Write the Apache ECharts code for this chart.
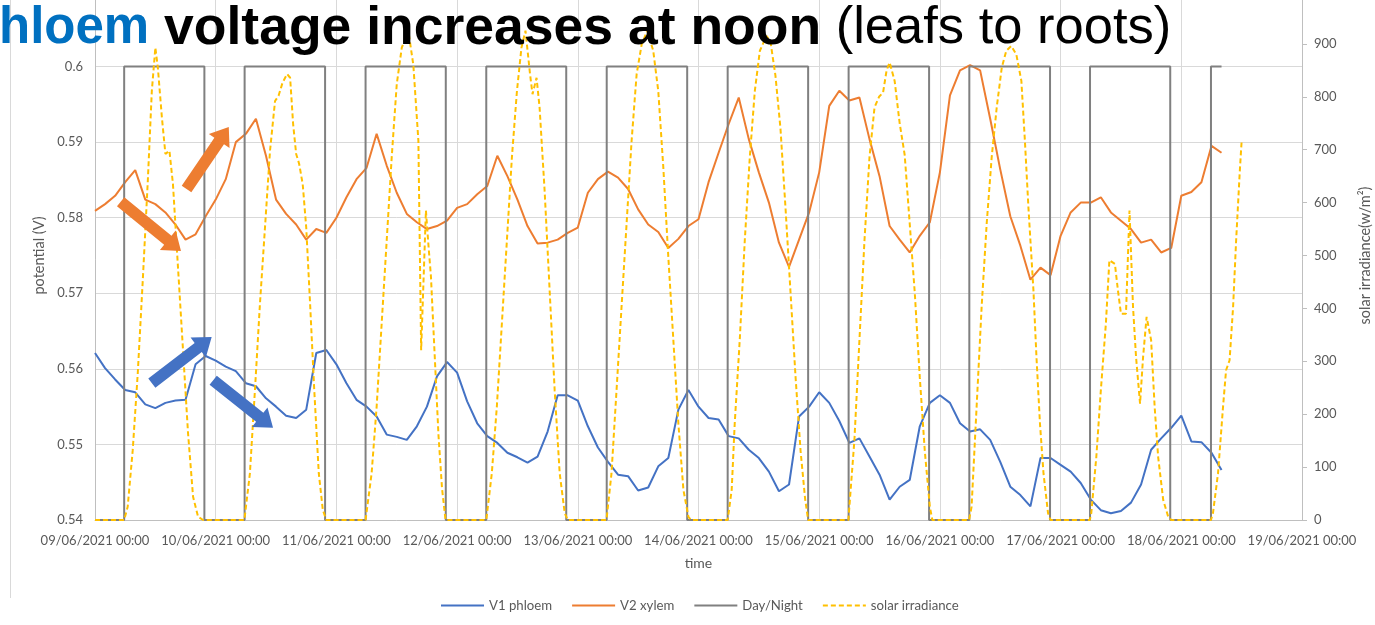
<!DOCTYPE html>
<html><head><meta charset="utf-8">
<script src="https://cdn.jsdelivr.net/npm/echarts@6/dist/echarts.min.js"></script>
<style>html,body{margin:0;padding:0;background:#fff}#c{width:1375px;height:625px}</style>
</head><body><div id="c"></div>
<script>
// ---- data (hours since 09/06/2021 00:00) ----
const xTickLabels = ['09/06/2021 00:00','10/06/2021 00:00','11/06/2021 00:00','12/06/2021 00:00','13/06/2021 00:00','14/06/2021 00:00','15/06/2021 00:00','16/06/2021 00:00','17/06/2021 00:00','18/06/2021 00:00','19/06/2021 00:00'];
const sampleHours = [0,2,4,6,8,10,12,14,16,18,20,22,24,26,28,30,32,34,36,38,40,42,44,46,48,50,52,54,56,58,60,62,64,66,68,70,72,74,76,78,80,82,84,86,88,90,92,94,96,98,100,102,104,106,108,110,112,114,116,118,120,122,124,126,128,130,132,134,136,138,140,142,144,146,148,150,152,154,156,158,160,162,164,166,168,170,172,174,176,178,180,182,184,186,188,190,192,194,196,198,200,202,204,206,208,210,212,214,216,218,220,222,224];
const v1Phloem = [0.5621,0.5601,0.5586,0.5572,0.5569,0.5553,0.5548,0.5555,0.5558,0.5559,
0.5606,0.5617,0.5611,0.5603,0.5597,0.5581,0.5577,0.5561,0.5550,0.5538,
0.5535,0.5546,0.5621,0.5625,0.5606,0.5581,0.5559,0.5550,0.5537,0.5513,
0.5510,0.5506,0.5524,0.5550,0.5590,0.5609,0.5595,0.5557,0.5528,0.5511,
0.5502,0.5489,0.5483,0.5476,0.5484,0.5517,0.5565,0.5565,0.5558,0.5524,
0.5496,0.5477,0.5460,0.5458,0.5439,0.5443,0.5471,0.5482,0.5546,0.5572,
0.5550,0.5535,0.5533,0.5511,0.5508,0.5493,0.5482,0.5464,0.5438,0.5447,
0.5537,0.5550,0.5569,0.5555,0.5531,0.5502,0.5508,0.5484,0.5460,0.5427,
0.5444,0.5453,0.5524,0.5555,0.5565,0.5555,0.5528,0.5517,0.5520,0.5506,
0.5477,0.5444,0.5433,0.5418,0.5482,0.5482,0.5473,0.5464,0.5449,0.5427,
0.5413,0.5409,0.5412,0.5423,0.5447,0.5493,0.5508,0.5522,0.5538,0.5504,
0.5503,0.5489,0.5466];
const v2Xylem = [0.5809,0.5818,0.5829,0.5847,0.5863,0.5824,0.5818,0.5807,0.5791,0.5771,
0.5778,0.5802,0.5824,0.5851,0.5900,0.5911,0.5931,0.5882,0.5824,0.5805,
0.5791,0.5771,0.5785,0.5780,0.5800,0.5827,0.5851,0.5866,0.5911,0.5869,
0.5833,0.5805,0.5794,0.5785,0.5789,0.5796,0.5813,0.5818,0.5831,0.5842,
0.5882,0.5855,0.5824,0.5789,0.5766,0.5767,0.5771,0.5780,0.5787,0.5833,
0.5851,0.5861,0.5853,0.5838,0.5811,0.5791,0.5781,0.5760,0.5772,0.5789,
0.5798,0.5847,0.5886,0.5924,0.5959,0.5904,0.5860,0.5820,0.5767,0.5735,
0.5771,0.5807,0.5860,0.5948,0.5968,0.5955,0.5959,0.5904,0.5855,0.5789,
0.5771,0.5754,0.5776,0.5794,0.5860,0.5962,0.5995,0.6002,0.5995,0.5931,
0.5864,0.5802,0.5763,0.5718,0.5734,0.5724,0.5776,0.5807,0.5820,0.5820,
0.5827,0.5807,0.5796,0.5785,0.5767,0.5771,0.5754,0.5760,0.5829,0.5834,
0.5847,0.5895,0.5886];
const sunriseHours = [5.8,29.75,53.8,77.8,101.75,125.8,149.85,173.85,197.85,221.9];
const sunsetHours = [21.75,45.75,69.75,93.7,117.75,141.8,165.85,189.9,213.8];
const dayLevel = 0.6, nightLevel = 0.54, dayNightEndHour = 224;
const solarHours = [
0,5.8,6.5,7.5,8.5,9.5,10.5,11.3,12,12.5,13.3,14,14.8,15.5,16.5,17.5,18.5,19.5,20.5,21.5,
29.7,30.8,31.8,32.8,33.8,34.8,35.8,36.5,37.3,38.2,38.8,39.4,40,40.6,41.3,42,42.8,43.6,44.5,45.3,46,
53.8,55,56,57,58,59,60,61,62.3,63.3,64.3,64.85,65.8,66.3,66.8,67.5,68.3,69,69.7,
77.8,78.9,79.9,80.9,81.9,82.9,83.9,84.8,85.6,86.5,87,87.8,88.4,89.4,90.4,91.4,92.4,93.4,94,
101.7,102.7,103.7,104.7,105.7,106.7,107.7,108.7,109.8,111,112,113,114,115,116,117,118,118.5,
125.8,126.6,127.2,128.2,129.2,130.2,131.2,132.2,133.5,134.3,135.3,136.3,137.3,138.3,139.3,140.3,141.2,141.8,
149.8,150,151,152,153,154,155,155.9,156.7,157.4,158,159,160,161,162,163,164,165,166,166.5,
173.8,174.3,175.3,176.3,177.3,178.3,179.3,180.3,181.2,182.2,183.2,184.2,184.9,185.6,186.6,187.2,187.9,188.6,189.5,190,
197.8,198.1,199.1,200,201,201.7,202.8,203.4,204,205,205.7,206.4,207,207.8,208.4,209.1,210,210.7,211.4,212.4,213.4,214,
221.9,222.3,223.3,224.3,224.9,225.6,226.3,226.9,227.6,228];
const solarIrradiance = [
0,0,25,132,277,453,641,811,893,855,761,692,698,635,478,321,164,44,6,0,
0,88,245,409,553,698,792,802,827,843,836,748,692,673,635,553,403,245,88,19,0,
0,88,214,371,528,686,824,893,925,860,717,321,585,520,460,320,160,60,0,
0,88,214,371,528,686,811,893,925,843,805,836,780,623,434,245,88,13,0,
0,88,245,403,560,717,843,899,925,887,811,667,497,340,182,57,6,0,
0,57,182,340,528,686,811,887,915,905,840,740,590,430,270,130,40,0,
0,25,151,340,528,686,780,800,808,850,865,830,750,690,560,430,270,130,25,0,
0,25,214,403,560,686,780,855,887,896,880,830,717,591,434,308,182,88,13,0,
0,13,119,245,371,491,484,434,390,390,585,403,308,220,308,384,340,214,119,38,6,0,
0,13,88,214,283,302,403,528,654,717];

// ---- build series points ----
const v1Data = sampleHours.map((h, i) => [h, v1Phloem[i]]);
const v2Data = sampleHours.map((h, i) => [h, v2Xylem[i]]);
const solarData = solarHours.map((h, i) => [h, solarIrradiance[i]]);
const dayNightData = [[0, nightLevel]];
sunriseHours.forEach((sr, i) => {
  dayNightData.push([sr, nightLevel], [sr, dayLevel]);
  if (i < sunsetHours.length) dayNightData.push([sunsetHours[i], dayLevel], [sunsetHours[i], nightLevel]);
  else dayNightData.push([dayNightEndHour, dayLevel]);
});

const FONT = 'Lato';
const GRAY = '#595959';
const chart = echarts.init(document.getElementById('c'), null, {renderer: 'canvas'});
const option = {
  animation: false,
  backgroundColor: '#ffffff',
  title: {
    text: '{a|hloem}{b| voltage increases at noon}{c| (leafs to roots)}',
    left: -1, top: 3, padding: 0, z: 20,
    textStyle: {
      fontFamily: 'Liberation Sans', fontSize: 52, lineHeight: 52,
      rich: {
        a: {fontFamily: 'Liberation Sans', fontSize: 51, lineHeight: 52, fontWeight: 'bold', color: '#0070C0'},
        b: {fontFamily: 'Liberation Sans', fontSize: 53.5, lineHeight: 52, fontWeight: 'bold', color: '#000000'},
        c: {fontFamily: 'Liberation Sans', fontSize: 52.5, lineHeight: 52, fontWeight: 'normal', color: '#000000'}
      }
    }
  },
  legend: {
    left: 435, top: 594, itemWidth: 43, itemHeight: 14, itemGap: 19,
    itemStyle: {opacity: 0},
    textStyle: {fontFamily: FONT, fontSize: 13.2, color: GRAY},
    data: ['V1 phloem', 'V2 xylem', 'Day/Night', 'solar irradiance']
  },
  grid: {left: 95, right: 73, top: -9, bottom: 105, containLabel: false, outerBoundsMode: 'none'},
  xAxis: {
    type: 'value', min: 0, max: 240, interval: 24,
    name: 'time', nameLocation: 'middle', nameGap: 36,
    nameTextStyle: {fontFamily: FONT, fontSize: 14, color: GRAY},
    axisLine: {show: true, lineStyle: {color: '#BFBFBF', width: 1}},
    axisTick: {show: false},
    axisLabel: {fontFamily: FONT, fontSize: 13, color: GRAY, margin: 14,
      formatter: v => xTickLabels[Math.round(v / 24)]},
    splitLine: {show: true, lineStyle: {color: '#D9D9D9', width: 1}}
  },
  yAxis: [{
    type: 'value', min: 0.54, max: 0.61, interval: 0.01, position: 'left',
    name: 'potential (V)', nameLocation: 'middle', nameGap: 43, nameRotate: 90,
    nameTextStyle: {fontFamily: FONT, fontSize: 14.5, color: GRAY},
    axisLine: {show: true, lineStyle: {color: '#BFBFBF', width: 1}},
    axisTick: {show: false},
    axisLabel: {fontFamily: FONT, fontSize: 13, color: GRAY, margin: 12},
    splitLine: {show: true, lineStyle: {color: '#D9D9D9', width: 1}}
  }, {
    type: 'value', min: 0, max: 1000, interval: 100, position: 'right',
    name: 'solar irradiance(w/m²)', nameLocation: 'middle', nameGap: 52, nameRotate: 90,
    nameTextStyle: {fontFamily: FONT, fontSize: 14.5, color: GRAY},
    axisLine: {show: true, lineStyle: {color: '#BFBFBF', width: 1}},
    axisTick: {show: true, length: 5, lineStyle: {color: '#BFBFBF'}},
    axisLabel: {fontFamily: FONT, fontSize: 13, color: GRAY, margin: 12},
    splitLine: {show: false}
  }],
  series: [
    {name: 'V1 phloem', type: 'line', yAxisIndex: 0, data: v1Data, symbol: 'none',
      lineStyle: {color: '#4472C4', width: 2}, itemStyle: {color: '#4472C4'}, z: 2},
    {name: 'V2 xylem', type: 'line', yAxisIndex: 0, data: v2Data, symbol: 'none',
      lineStyle: {color: '#ED7D31', width: 2}, itemStyle: {color: '#ED7D31'}, z: 2},
    {name: 'Day/Night', type: 'line', yAxisIndex: 0, data: dayNightData, symbol: 'none',
      lineStyle: {color: '#808080', width: 2}, itemStyle: {color: '#808080'}, z: 3},
    {name: 'solar irradiance', type: 'line', yAxisIndex: 1, data: solarData, symbol: 'none',
      lineStyle: {color: '#FFC000', width: 2, type: [5, 3]}, itemStyle: {color: '#FFC000'}, z: 4}
  ]
};
chart.setOption(option);

// ---- annotation arrows, anchored in data coordinates (hours, volts) ----
const arrows = [
  {from: [18.2, 0.5838], to: [26.6, 0.5920], color: '#ED7D31'},
  {from: [5.1, 0.5821], to: [17.1, 0.5756], color: '#ED7D31'},
  {from: [11.3, 0.5581], to: [23.2, 0.5642], color: '#4472C4'},
  {from: [23.5, 0.5585], to: [35.4, 0.5522], color: '#4472C4'}
];
function arrowPoints(p0, p1, sw, hw, hl) {
  const dx = p1[0] - p0[0], dy = p1[1] - p0[1], L = Math.hypot(dx, dy);
  const ux = dx / L, uy = dy / L, nx = -uy, ny = ux;
  const bx = p1[0] - ux * hl, by = p1[1] - uy * hl;
  return [[p0[0] + nx * sw, p0[1] + ny * sw], [bx + nx * sw, by + ny * sw], [bx + nx * hw, by + ny * hw],
          [p1[0], p1[1]], [bx - nx * hw, by - ny * hw], [bx - nx * sw, by - ny * sw], [p0[0] - nx * sw, p0[1] - ny * sw]];
}
const graphics = arrows.map(a => {
  const p0 = chart.convertToPixel({xAxisIndex: 0, yAxisIndex: 0}, a.from);
  const p1 = chart.convertToPixel({xAxisIndex: 0, yAxisIndex: 0}, a.to);
  return {type: 'polygon', z: 50, shape: {points: arrowPoints(p0, p1, 5.8, 12.5, 17)}, style: {fill: a.color}};
});
graphics.push({type: 'line', z: 1, shape: {x1: 10.5, y1: 0, x2: 10.5, y2: 598}, style: {stroke: '#D9D9D9', lineWidth: 1}});
chart.setOption({graphic: graphics});
</script>
</body></html>
